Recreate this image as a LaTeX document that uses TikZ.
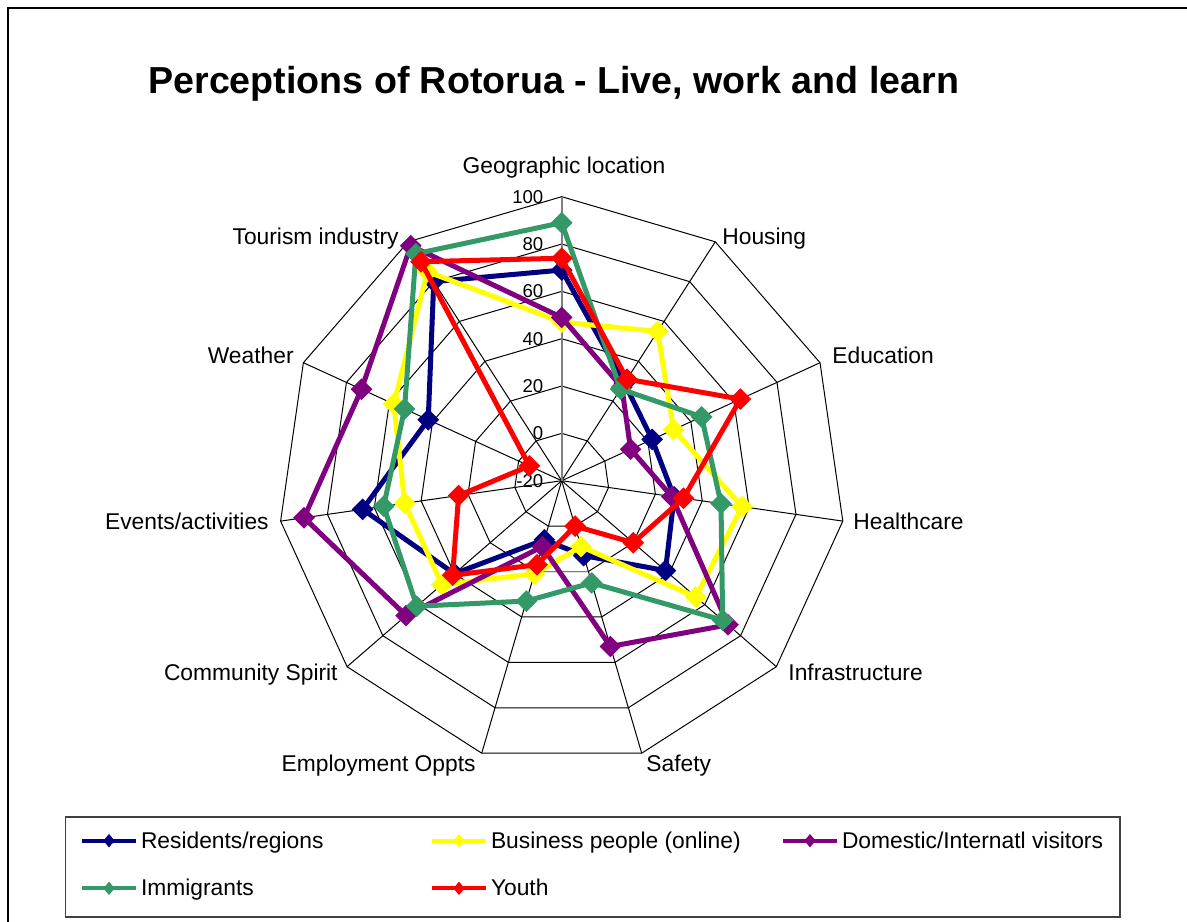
\documentclass[tikz,border=0pt]{standalone}
\usepackage{fontspec}
\setmainfont{Liberation Sans}
\usetikzlibrary{shapes.geometric}
\definecolor{resblue}{RGB}{0,0,128}
\definecolor{busyellow}{RGB}{255,255,0}
\definecolor{dompurple}{RGB}{128,0,128}
\definecolor{immgreen}{RGB}{51,153,102}
\definecolor{youred}{RGB}{255,0,0}
\begin{document}
\begin{tikzpicture}[x=0.5pt,y=-0.5pt,
  grid/.style={black,line width=0.5pt},
  valaxis/.style={gray,line width=0.8pt},
  series/.style={line width=2.5pt,line join=round},
  datapt/.style={diamond,inner sep=0pt,minimum size=11pt},
  axlabel/.style={inner sep=0pt,text=black,font=\fontsize{11.4}{13}\selectfont},
  ticklabel/.style={inner sep=0pt,anchor=east,font=\fontsize{9.3}{11}\selectfont},
  keyline/.style={line width=2pt},
  keypt/.style={diamond,inner sep=0pt,minimum width=6.5pt,minimum height=7.5pt}]
\useasboundingbox (0,0) rectangle (1187,921);
% frame and title
\draw[line width=1.2pt] (8,930) -- (8,8) -- (1195,8);
\node[anchor=base west,inner sep=0pt,font=\fontsize{18.8}{22}\selectfont\bfseries] (title) at (148,93) {Perceptions of Rotorua - Live, work and learn};

\begin{scope}[shift={(561.7,480.7)},yscale=-1]
% rings and spokes
\foreach \v in {0,20,...,100}{
  \draw[grid] (90:{(\v+20)*2.3667}) \foreach \k in {1,...,10}{ -- ({90-\k*360/11}:{(\v+20)*2.3667})} -- cycle;
}
\foreach \k in {0,...,10} \coordinate (ax\k) at ({90-\k*360/11}:284);
\foreach \k in {1,...,10} \draw[grid] (0,0) -- (ax\k);
\draw[valaxis] (0,0) -- (ax0);
\draw[valaxis] ({90-5*360/11}:94.67) -- ({90-6*360/11}:94.67);
\foreach \v in {-20,0,...,100} \node[ticklabel] (t\v) at (-18,{(\v+20)*2.3667}) {\v};

% data
\foreach \s/\col/\vals in {
  res/resblue/{69,29,22,28,38,13,6,40,65,42,80},
  bus/busyellow/{47,55,32,57,55,9,21,47,47,58,85},
  dom/dompurple/{49,27,12,27,73,53,9,67,90,73,98},
  imm/immgreen/{89,26,45,48,70,25,33,61,56,53,94},
  you/youred/{74,31,63,32,20,0,17,41,24,-5,90}}{
  \foreach \v [count=\k from 0] in \vals
    \coordinate (\s\k) at ({90-\k*360/11}:{(\v+20)*2.3667});
  \draw[series,\col] (\s0) \foreach \k in {1,...,10}{ -- (\s\k)} -- cycle;
  \foreach \k in {0,...,10} \node[datapt,fill=\col] (\s m\k) at (\s\k) {};
}
\end{scope}

% axis names
\foreach \nm/\x/\y/\anc [count=\i] in {
  {Geographic location}/564/173/base, Housing/722/244/base west,
  Education/832/363/base west, Healthcare/853/529/base west,
  Infrastructure/788/680/base west, Safety/646/771/base west,
  {Employment Oppts}/476/771/base east, {Community Spirit}/338/680/base east,
  {Events/activities}/269/529/base east, Weather/294/363/base east,
  {Tourism industry}/399/244/base east}
  \node[axlabel,anchor=\anc] (lab\i) at (\x,\y) {\nm};

% legend
\draw[black!75,line width=0.6pt] (65.7,817) rectangle (1120,917);
\foreach \col/\x/\y/\txt [count=\i] in {
  resblue/82/840.7/{Residents/regions},
  busyellow/432/840.7/{Business people (online)},
  dompurple/783/840.7/{Domestic/Internatl visitors},
  immgreen/82/888.3/Immigrants,
  youred/432/888.3/Youth}{
  \coordinate (key\i) at (\x,\y);
  \draw[keyline,\col] (key\i) -- node[keypt,fill=\col] (keypt\i) {} ++(54,0)
    node[axlabel,anchor=base west,xshift=1.5pt,yshift=-3.75pt] (keytxt\i) {\txt};
}
\end{tikzpicture}
\end{document}
